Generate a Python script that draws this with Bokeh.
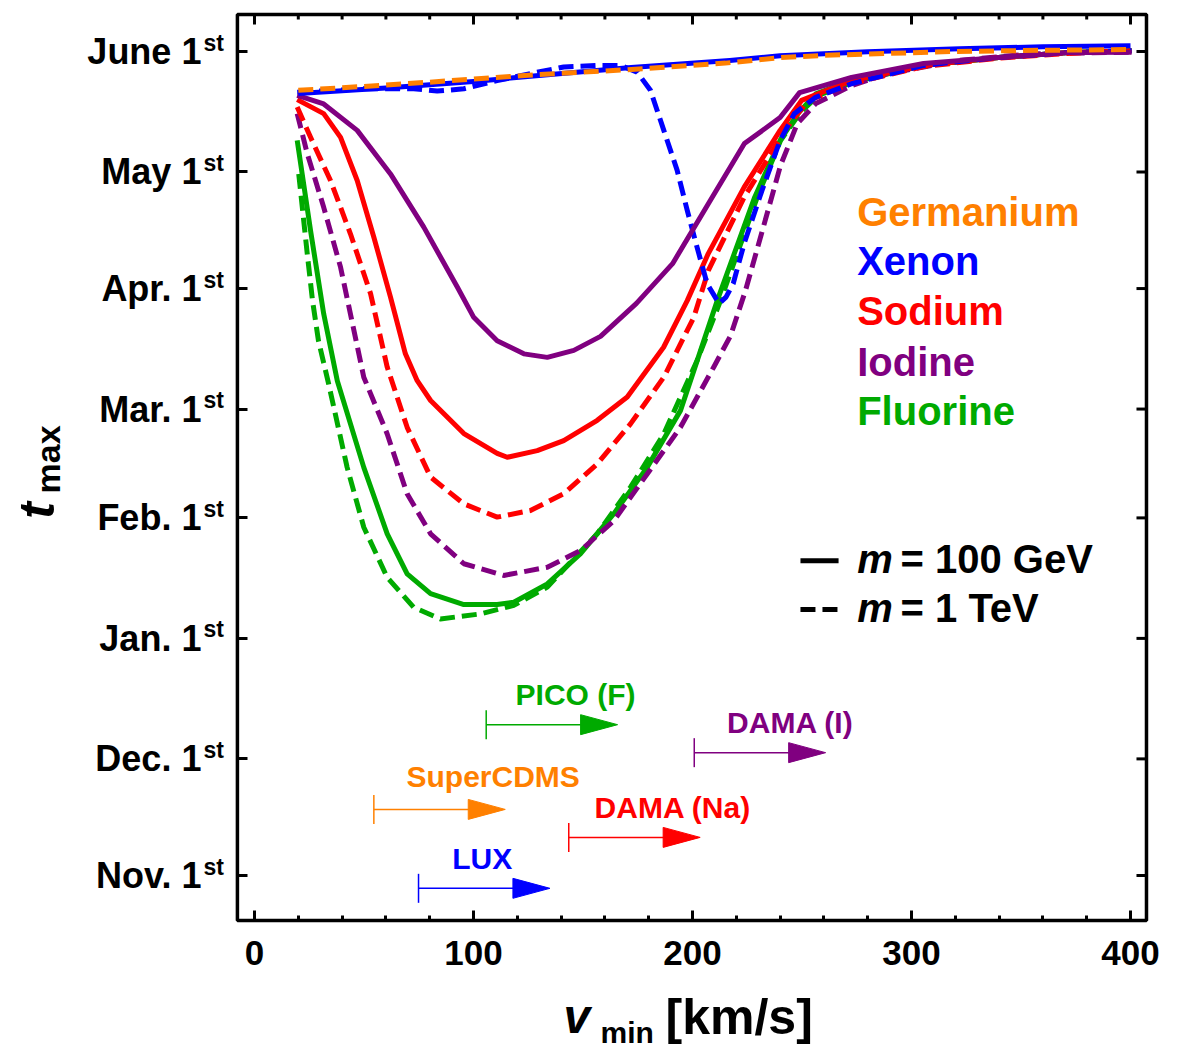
from bokeh.plotting import figure
from bokeh.models import Range1d, FixedTicker, Arrow, TeeHead, ColumnDataSource
from bokeh.core.properties import value
from bokeh.embed import file_html
from bokeh.resources import INLINE

FONT = "Liberation Sans"

# ---------------- data ----------------
# y values: days counted from Nov. 1st
tick_days = [0, 30, 61, 92, 120, 151, 181, 212]
tick_names = ["Nov. 1", "Dec. 1", "Jan. 1", "Feb. 1", "Mar. 1", "Apr. 1", "May 1", "June 1"]
x_ticks = [0, 100, 200, 300, 400]
x_minor = [20, 40, 60, 80, 120, 140, 160, 180, 220, 240, 260, 280, 320, 340, 360, 380]

# plot box limits (data units)
X_LO, X_HI = -7.8, 407.3
Y_LO, Y_HI = -11.6, 221.5

ge_dash_v = [20, 50, 80, 125, 170, 215, 240, 260, 320, 360, 400]
ge_dash_d = [202.0, 203.0, 204.1, 205.9, 207.3, 209.0, 210.4, 211.0, 212.0, 212.3, 212.5]

xe_sol_v = [20, 60, 100, 126, 172, 217, 240, 280, 322, 360, 400]
xe_sol_d = [201.2, 202.6, 204.3, 205.6, 207.9, 209.7, 210.9, 211.9, 212.7, 213.2, 213.5]

xe_dash_v = [19.5, 49.9, 72.7, 83.4, 95.6, 110.8, 126.0, 141.2, 156.5, 167.1, 174.7, 180.8, 186.9,
             193.0, 197.6, 202.1, 206.7, 211.3, 212.1, 215.3, 218.6, 223.6, 231.7, 240.0, 246.5,
             256.2, 272.6, 305.5, 338.4, 371.2, 400.5]
xe_dash_d = [201.5, 202.4, 202.4, 201.8, 202.4, 204.5, 206.3, 208.0, 208.4, 208.4, 206.7, 202.0, 191.7,
             181.4, 171.1, 161.6, 152.2, 147.9, 147.1, 148.8, 152.3, 162.6, 176.2, 189.1, 196.0,
             200.2, 203.7, 208.4, 210.4, 211.7, 212.2]

i_sol_v = [19.5, 31.6, 46.9, 62.1, 77.3, 92.6, 100.1, 110.8, 123.0, 133.7, 145.8, 158.0, 174.4, 190.9,
           207.3, 223.7, 240.0, 248.9, 272.6, 305.5, 338.4, 371.2, 400.5]
i_sol_d = [200.7, 198.5, 191.7, 180.5, 166.8, 151.4, 143.6, 137.6, 134.2, 133.3, 135.1, 138.7, 147.2,
           157.4, 172.9, 188.3, 195.0, 201.4, 205.3, 208.9, 210.4, 211.7, 211.8]

na_sol_v = [19.5, 31.6, 39.3, 46.9, 54.5, 62.1, 68.9, 74.3, 80.4, 95.6, 110.8, 115.4, 129.1, 141.2,
            156.5, 170.2, 186.8, 197.6, 207.2, 223.6, 240.0, 249.8, 272.6, 305.5, 338.4, 371.2, 400.5]
na_sol_d = [199.6, 196.0, 189.9, 178.8, 164.2, 148.8, 134.2, 127.3, 122.2, 113.7, 108.6, 107.6, 109.3,
            111.9, 117.1, 123.1, 135.9, 147.9, 160.0, 177.1, 191.7, 199.4, 204.5, 208.4, 210.4, 211.7, 212.2]

na_dash_v = [19.5, 25.6, 34.7, 43.8, 53.0, 60.6, 69.7, 80.4, 95.6, 110.8, 126.0, 141.2, 156.5, 171.7,
             186.9, 200.6, 207.2, 223.6, 243.2, 253.0, 272.6, 305.5, 338.4, 371.2, 400.5]
na_dash_d = [197.7, 189.9, 178.8, 165.1, 149.7, 130.8, 115.3, 102.5, 95.6, 92.2, 93.9, 98.2, 105.9, 116.2,
             128.2, 143.6, 155.6, 174.5, 192.5, 199.4, 203.8, 208.1, 210.2, 211.5, 212.2]

i_dash_v = [19.5, 24.1, 31.6, 39.3, 49.9, 60.6, 69.7, 80.4, 95.6, 113.8, 133.7, 148.9, 164.1, 179.3,
            194.5, 209.6, 217.4, 224.2, 231.9, 240.2, 247.9, 256.3, 272.6, 289.0, 321.9, 354.7, 400.5]
i_dash_d = [196.0, 185.7, 171.9, 156.5, 128.2, 113.6, 98.2, 87.9, 80.2, 77.2, 79.3, 83.6, 91.3, 103.3,
            115.3, 130.7, 138.9, 150.5, 165.9, 182.7, 193.5, 198.6, 203.2, 206.3, 209.7, 211.4, 211.8]

f_sol_v = [19.5, 25.6, 31.6, 37.8, 49.9, 60.6, 69.7, 80.4, 95.6, 110.8, 118.4, 133.7, 148.9, 164.1,
           179.3, 194.5, 211.3, 228.4, 240.0, 248.1, 256.3, 272.6, 305.5, 338.4, 371.2, 400.5]
f_sol_d = [189.1, 165.9, 144.5, 127.3, 105.0, 87.9, 77.6, 72.5, 69.7, 69.7, 70.3, 75.0, 82.8, 93.1,
           105.0, 119.6, 147.9, 174.5, 189.1, 196.0, 201.1, 204.5, 208.4, 210.4, 211.7, 212.2]

f_dash_v = [20.2, 24.1, 26.5, 29.2, 33.8, 42.3, 49.9, 60.6, 72.7, 84.9, 103.2, 118.4, 133.7, 156.5,
            171.7, 186.9, 202.1, 212.8, 229.7, 240.2, 249.3, 257.5, 272.6, 305.5, 338.4, 371.2, 400.5]
f_dash_d = [180.5, 159.9, 147.9, 137.6, 126.6, 105.0, 89.6, 76.7, 69.0, 66.0, 67.3, 69.5, 74.2, 87.9,
            99.9, 113.6, 132.5, 147.9, 174.7, 189.1, 196.3, 200.7, 204.0, 208.4, 210.4, 211.7, 212.2]

# experiment thresholds (arrows)
exp_names = ["PICO (F)", "DAMA (I)", "SuperCDMS", "DAMA (Na)", "LUX"]
exp_start = [105.8, 200.8, 54.5, 143.5, 74.9]
exp_end = [165.8, 260.8, 114.5, 203.5, 134.9]
exp_row = [38.8, 31.6, 17.0, 9.8, -3.3]
exp_text_v = [119.2, 215.8, 69.4, 155.3, 90.3]
exp_text_d = [46.6, 39.4, 25.4, 17.6, 4.4]

element_names = ["Germanium", "Xenon", "Sodium", "Iodine", "Fluorine"]
element_d = [170.8, 158.0, 145.1, 132.2, 119.4]

ORANGE = "#FF8000"
BLUE = "#0000FF"
RED = "#FF0000"
PURPLE = "#800080"
GREEN = "#00AA00"
exp_colors = [GREEN, PURPLE, ORANGE, RED, BLUE]
element_colors = [ORANGE, BLUE, RED, PURPLE, GREEN]

# ---------------- figure (frame spans the whole canvas) ----------------
p = figure(width=1183, height=1048, x_range=Range1d(-115.98, 424.20), y_range=Range1d(-44.51, 225.11),
           output_backend="svg", toolbar_location=None,
           min_border_left=0, min_border_right=0, min_border_top=0, min_border_bottom=0)
p.xgrid.visible = False
p.ygrid.visible = False
p.outline_line_color = None
p.background_fill_color = "white"
p.border_fill_color = "white"

# bottom axis, pinned to the lower edge of the box
bottom = p.below[0]
bottom.fixed_location = Y_LO
bottom.bounds = (X_LO, X_HI)
bottom.ticker = FixedTicker(ticks=x_ticks, minor_ticks=x_minor)
bottom.axis_line_color = None
bottom.major_tick_in = 10
bottom.major_tick_out = 0
bottom.major_tick_line_width = 3
bottom.minor_tick_in = 5
bottom.minor_tick_out = 0
bottom.minor_tick_line_width = 3
bottom.major_label_text_font = FONT
bottom.major_label_text_font_style = "bold"
bottom.major_label_text_font_size = "35px"
bottom.major_label_text_color = "black"
bottom.major_label_standoff = 20

# left axis, pinned to the left edge of the box
left = p.left[0]
left.fixed_location = X_LO
left.bounds = (Y_LO, Y_HI)
left.ticker = FixedTicker(ticks=tick_days, minor_ticks=[])
left.axis_line_color = None
left.major_tick_in = 10
left.major_tick_out = 0
left.major_tick_line_width = 3
left.minor_tick_line_color = None
left.major_label_text_font = FONT
left.major_label_text_font_style = "bold"
left.major_label_text_font_size = "36px"
left.major_label_text_color = "black"
left.major_label_standoff = 36
left.major_label_overrides = {d: n for d, n in zip(tick_days, tick_names)}

# box and the mirrored ticks on top / right
p.quad(left=[X_LO], right=[X_HI], bottom=[Y_LO], top=[Y_HI], fill_color=None,
       line_color="black", line_width=3.5)
TICK_Y_MAJ, TICK_Y_MIN, TICK_X = 2.57, 1.29, 4.57
p.segment(x0=x_ticks, y0=[Y_HI] * len(x_ticks), x1=x_ticks, y1=[Y_HI - TICK_Y_MAJ] * len(x_ticks),
          line_color="black", line_width=3)
p.segment(x0=x_minor, y0=[Y_HI] * len(x_minor), x1=x_minor, y1=[Y_HI - TICK_Y_MIN] * len(x_minor),
          line_color="black", line_width=3)
p.segment(x0=[X_HI] * len(tick_days), y0=tick_days, x1=[X_HI - TICK_X] * len(tick_days), y1=tick_days,
          line_color="black", line_width=3)

# superscript "st" of the date labels
SUP_SHIFT = 2.3
p.text(x=[-23.3] * len(tick_days), y=[d + SUP_SHIFT for d in tick_days], text=["st"] * len(tick_days),
       text_font=value(FONT), text_font_style="bold", text_font_size=value("23px"),
       text_baseline="alphabetic", text_align="left", text_color="black")

# axis titles
p.text(x=[141.1], y=[-36.3], text=["v"], text_font=value(FONT), text_font_style="bold italic",
       text_font_size=value("48px"), text_baseline="alphabetic", text_color="black")
p.text(x=[158.0], y=[-40.4], text=["min"], text_font=value(FONT), text_font_style="bold",
       text_font_size=value("30px"), text_baseline="alphabetic", text_color="black")
p.text(x=[187.7], y=[-36.3], text=["[km/s]"], text_font=value(FONT), text_font_style="bold",
       text_font_size=value("50px"), text_baseline="alphabetic", text_color="black")
p.text(x=[-99.1], y=[91.8], text=["t"], text_font=value(FONT), text_font_style="bold italic",
       text_font_size=value("50px"), text_baseline="alphabetic", angle=1.5708, text_color="black")
p.text(x=[-94.1], y=[98.3], text=["max"], text_font=value(FONT), text_font_style="bold",
       text_font_size=value("34px"), text_baseline="alphabetic", angle=1.5708, text_color="black")

# ---------------- curves ----------------
LW = 5
DASH = "15 7"
kw = dict(line_width=LW, line_join="round")
p.line(f_dash_v, f_dash_d, line_color=GREEN, line_dash=DASH, **kw)
p.line(f_sol_v, f_sol_d, line_color=GREEN, **kw)
p.line(i_dash_v, i_dash_d, line_color=PURPLE, line_dash=DASH, **kw)
p.line(na_dash_v, na_dash_d, line_color=RED, line_dash=DASH, **kw)
p.line(na_sol_v, na_sol_d, line_color=RED, **kw)
p.line(xe_dash_v, xe_dash_d, line_color=BLUE, line_dash=DASH, **kw)
p.line(i_sol_v, i_sol_d, line_color=PURPLE, **kw)
p.line(xe_sol_v, xe_sol_d, line_color=BLUE, **kw)
p.line(ge_dash_v, ge_dash_d, line_color=ORANGE, line_dash=DASH, **kw)

# ---------------- element legend ----------------
el_src = ColumnDataSource(dict(x=[275.2] * len(element_names), y=element_d, text=element_names,
                               color=element_colors))
p.text(x="x", y="y", text="text", source=el_src, text_color="color", text_font=value(FONT),
       text_font_style="bold", text_font_size=value("40px"), text_baseline="alphabetic", text_align="left")

# ---------------- mass legend ----------------
p.segment(x0=[249.3], y0=[81.0], x1=[266.7], y1=[81.0], line_color="black", line_width=5)
p.segment(x0=[249.3], y0=[68.4], x1=[266.7], y1=[68.4], line_color="black", line_width=5, line_dash=DASH)
p.text(x=[275.2, 275.2], y=[81.5, 68.9], text=["m", "m"], text_font=value(FONT), text_font_style="bold italic",
       text_font_size=value("40px"), text_baseline="alphabetic", text_color="black")
p.text(x=[295.0, 295.0], y=[81.5, 68.9], text=["= 100 GeV", "= 1 TeV"], text_font=value(FONT),
       text_font_style="bold", text_font_size=value("40px"), text_baseline="alphabetic", text_color="black")

# ---------------- experiment arrows ----------------
HEAD_LEN, HEAD_HALF = 16.9, 2.57
for s, e, r, c in zip(exp_start, exp_end, exp_row, exp_colors):
    p.add_layout(Arrow(x_start=s, y_start=r, x_end=e - HEAD_LEN / 2, y_end=r, line_color=c, line_width=1.5,
                       start=TeeHead(size=29, line_color=c, line_width=1.5), end=None))
p.patches(xs=[[e - HEAD_LEN, e, e - HEAD_LEN] for e in exp_end],
          ys=[[r + HEAD_HALF, r, r - HEAD_HALF] for r in exp_row],
          fill_color=exp_colors, line_color=exp_colors, line_width=1)
exp_src = ColumnDataSource(dict(x=exp_text_v, y=exp_text_d, text=exp_names, color=exp_colors))
p.text(x="x", y="y", text="text", source=exp_src, text_color="color", text_font=value(FONT),
       text_font_style="bold", text_font_size=value("30px"), text_baseline="alphabetic", text_align="left")

open("out.html", "w").write(file_html(p, INLINE))
